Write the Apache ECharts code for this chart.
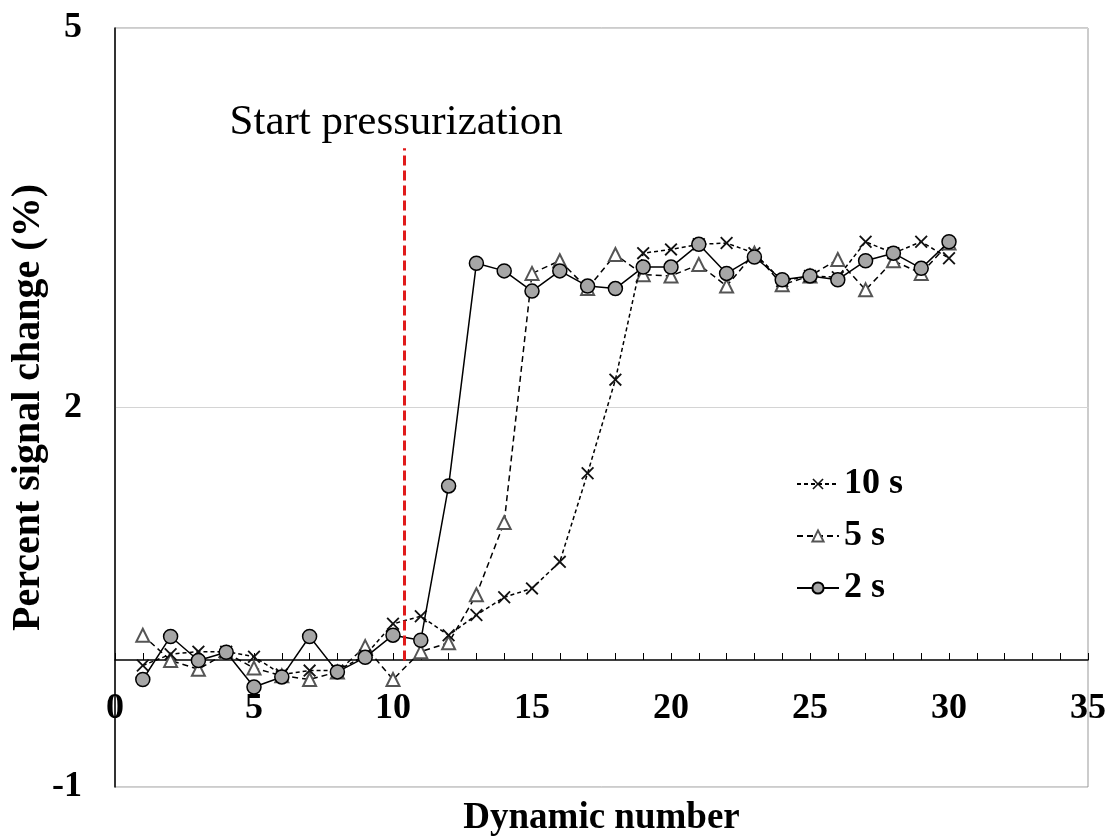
<!DOCTYPE html>
<html>
<head>
<meta charset="utf-8">
<script src="https://cdn.jsdelivr.net/npm/echarts@6/dist/echarts.min.js"></script>
<style>
html,body{margin:0;padding:0;background:#fff;}
#chart{width:1114px;height:836px;}
</style>
</head>
<body>
<div id="chart"></div>
<script>
const dynamicNumbers = [1,2,3,4,5,6,7,8,9,10,11,12,13,14,15,16,17,18,19,20,21,22,23,24,25,26,27,28,29,30];
const s10 = [-0.04,0.05,0.07,0.07,0.03,-0.11,-0.08,-0.08,0.04,0.29,0.35,0.2,0.36,0.5,0.57,0.78,1.48,2.22,3.22,3.25,3.29,3.30,3.22,3.0,3.04,3.03,3.31,3.22,3.31,3.18];
const s5 = [0.2,0.0,-0.07,0.06,-0.06,-0.12,-0.15,-0.09,0.11,-0.15,0.07,0.14,0.52,1.09,3.06,3.16,2.94,3.21,3.05,3.04,3.13,2.96,3.22,2.97,3.04,3.17,2.93,3.16,3.06,3.3];
const s2 = [-0.15,0.19,0.0,0.065,-0.21,-0.13,0.19,-0.09,0.025,0.2,0.16,1.38,3.14,3.08,2.92,3.08,2.96,2.94,3.11,3.11,3.29,3.06,3.19,3.01,3.04,3.01,3.16,3.22,3.10,3.31];
const seriesNames = ['10 s','5 s','2 s'];
const pressurizationX = 10.4;
const pressurizationTop = 4.05;
const xTicks = {min:0, max:35, interval:5};
const yTicks = {min:-1, max:5, interval:3};

const pair = arr => dynamicNumbers.map((d,i)=>[d, arr[i]]);
const FONT = 'Liberation Serif, Times New Roman, serif';
const crossPath = 'path://M2,0L10,8L18,0L20,2L12,10L20,18L18,20L10,12L2,20L0,18L8,10L0,2Z';

const chart = echarts.init(document.getElementById('chart'));
chart.setOption({
  animation:false,
  backgroundColor:'#fff',
  grid:{left:115, right:26, top:28, bottom:49, containLabel:false, outerBoundsMode:'none',
        show:true, borderColor:'#999', borderWidth:1},
  legend:{
    data:seriesNames, orient:'vertical', left:791, top:461, itemGap:16,
    itemWidth:42, itemHeight:14,
    textStyle:{fontFamily:FONT, fontWeight:'bold', fontSize:36, color:'#000'}
  },
  xAxis:{
    type:'value', min:xTicks.min, max:xTicks.max, interval:xTicks.interval,
    position:'bottom', offset:-127,
    name:'Dynamic number', nameLocation:'middle', nameGap:140, nameMoveOverlap:false,
    nameTextStyle:{fontFamily:FONT, fontWeight:'bold', fontSize:37, color:'#000'},
    axisLine:{onZero:false, lineStyle:{color:'#000', width:1.5}},
    axisTick:{show:true, inside:true, length:7, lineStyle:{color:'#000', width:1}},
    minorTick:{show:true, splitNumber:5, length:7, lineStyle:{color:'#000', width:1}},
    axisLabel:{fontFamily:FONT, fontWeight:'bold', fontSize:36, color:'#000', margin:31},
    splitLine:{show:false}
  },
  yAxis:{
    type:'value', min:yTicks.min, max:yTicks.max, interval:yTicks.interval,
    name:'Percent signal change (%)', nameLocation:'middle', nameGap:66, nameRotate:90, nameMoveOverlap:false,
    nameTextStyle:{fontFamily:FONT, fontWeight:'bold', fontSize:40, color:'#000'},
    axisLine:{show:true, onZero:false, lineStyle:{color:'#000', width:1.5}},
    axisTick:{show:false},
    axisLabel:{fontFamily:FONT, fontWeight:'bold', fontSize:36, color:'#000', margin:33},
    splitLine:{show:true, lineStyle:{color:'#d4d4d4', width:1}}
  },
  series:[
    {
      name:'5 s', type:'line', data:pair(s5), symbol:'triangle', symbolSize:13,
      lineStyle:{color:'#000', width:1.5, type:[6,4]},
      itemStyle:{color:'#fff', borderColor:'#555', borderWidth:2}, z:2
    },
    {
      name:'10 s', type:'line', data:pair(s10), symbol:crossPath, symbolSize:13,
      lineStyle:{color:'#000', width:1.5, type:[4,3]},
      itemStyle:{color:'#111'}, z:3,
      markLine:{
        silent:true, symbol:'none',
        lineStyle:{color:'#e01b1b', width:3, type:[10,5]},
        label:{show:true, position:'end', formatter:'Start pressurization', fontFamily:FONT, fontSize:43, color:'#000', distance:4, offset:[-8,0]},
        data:[[{coord:[pressurizationX,0]},{coord:[pressurizationX,pressurizationTop]}]]
      }
    },
    {
      name:'2 s', type:'line', data:pair(s2), symbol:'circle', symbolSize:14,
      lineStyle:{color:'#000', width:1.5},
      itemStyle:{color:'#a6a6a6', borderColor:'#000', borderWidth:1.5}, z:4
    }
  ]
});
</script>
</body>
</html>
